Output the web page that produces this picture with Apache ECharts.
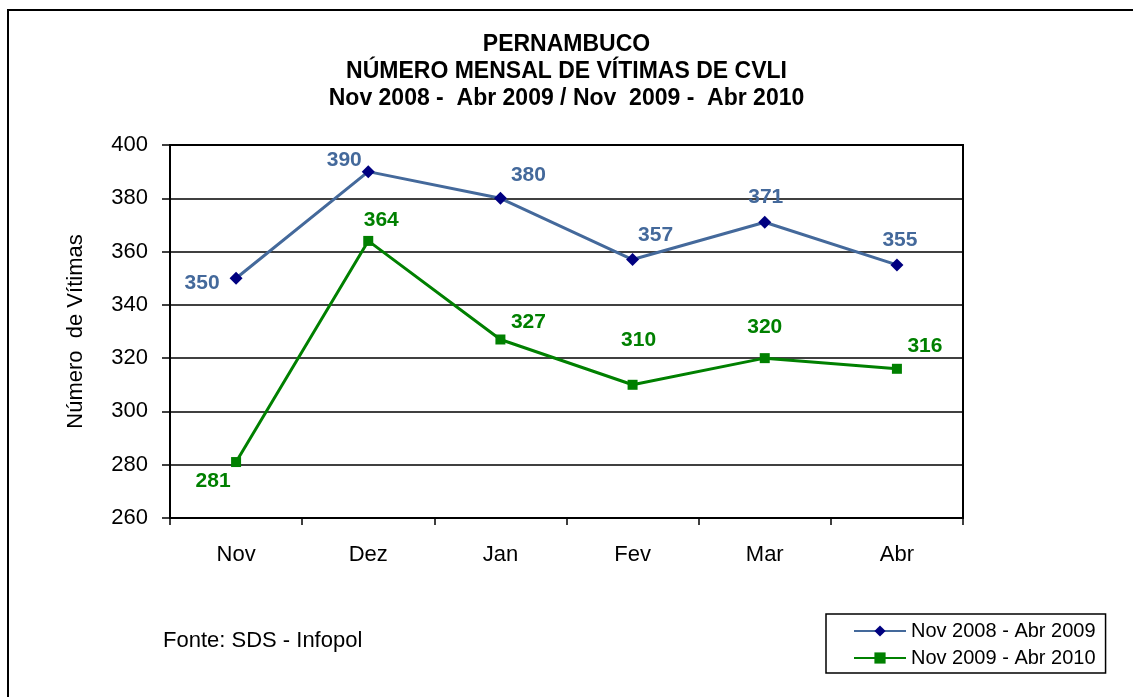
<!DOCTYPE html>
<html>
<head>
<meta charset="utf-8">
<script src="https://cdn.jsdelivr.net/npm/echarts@6/dist/echarts.min.js"></script>
<style>
  html, body { margin: 0; padding: 0; background: #fff; }
  #chart { width: 1133px; height: 697px; }
</style>
</head>
<body>
<div id="chart"></div>
<script>
// dados
var months = ['Nov', 'Dez', 'Jan', 'Fev', 'Mar', 'Abr'];
var serie1Name = 'Nov 2008 - Abr 2009';
var serie2Name = 'Nov 2009 - Abr 2010';
var serie1 = [350, 390, 380, 357, 371, 355];
var serie2 = [281, 364, 327, 310, 320, 316];

// deslocamento dos rotulos (estilo)
var off1 = [[-34, 5], [-24, -11], [28, -23], [23, -24], [1, -25], [3, -25]];
var off2 = [[-23, 19], [13, -21], [28, -17], [6, -45], [0, -31], [28, -23]];

var FONT = 'Arial, "Liberation Sans", sans-serif';
var BLUE_TXT = '#44699b';

function withLabels(values, offsets) {
    return values.map(function (v, i) {
        return {
            value: v,
            label: { offset: offsets[i] }
        };
    });
}

var chart = echarts.init(document.getElementById('chart'));
var option = {
    backgroundColor: '#fff',
    animation: false,
    title: {
        text: 'PERNAMBUCO\nNÚMERO MENSAL DE VÍTIMAS DE CVLI\nNov 2008 -  Abr 2009 / Nov  2009 -  Abr 2010',
        left: 'center',
        top: 26,
        textStyle: {
            fontFamily: FONT,
            fontSize: 23,
            fontWeight: 'bold',
            color: '#000',
            lineHeight: 27
        }
    },
    legend: {
        orient: 'vertical',
        left: 826,
        top: 614,
        itemWidth: 52,
        itemHeight: 14,
        itemGap: 7,
        padding: [7, 10, 5, 27],
        borderColor: '#000',
        borderWidth: 1.5,
        textStyle: { fontFamily: FONT, fontSize: 20, color: '#000' },
        data: [serie1Name, serie2Name]
    },
    grid: {
        left: 170,
        right: 170,
        top: 145,
        bottom: 179,
        show: true,
        borderColor: '#000',
        borderWidth: 2
    },
    xAxis: {
        type: 'category',
        data: months,
        boundaryGap: true,
        axisLine: { lineStyle: { color: '#000', width: 2 } },
        axisTick: { show: true, length: 7, lineStyle: { color: '#000', width: 1.5 } },
        axisLabel: { margin: 26, fontFamily: FONT, fontSize: 22, color: '#000' }
    },
    yAxis: {
        type: 'value',
        min: 260,
        max: 400,
        interval: 20,
        name: 'Número  de Vítimas',
        nameLocation: 'middle',
        nameGap: 83,
        nameTextStyle: { fontFamily: FONT, fontSize: 22, color: '#000' },
        axisLine: { show: true, lineStyle: { color: '#000', width: 2 } },
        axisTick: { show: true, length: 8, lineStyle: { color: '#000', width: 1.5 } },
        axisLabel: { margin: 22, fontFamily: FONT, fontSize: 22, color: '#000' },
        splitLine: { show: true, lineStyle: { color: '#000', width: 1.5 } }
    },
    series: [
        {
            name: serie1Name,
            type: 'line',
            data: withLabels(serie1, off1),
            symbol: 'diamond',
            symbolSize: 13,
            lineStyle: { color: '#44699b', width: 3 },
            itemStyle: { color: '#000080' },
            label: {
                show: true,
                position: 'inside',
                fontFamily: FONT,
                fontSize: 21,
                fontWeight: 'bold',
                color: BLUE_TXT
            }
        },
        {
            name: serie2Name,
            type: 'line',
            data: withLabels(serie2, off2),
            symbol: 'rect',
            symbolSize: 10,
            lineStyle: { color: '#008000', width: 3 },
            itemStyle: { color: '#008000' },
            label: {
                show: true,
                position: 'inside',
                fontFamily: FONT,
                fontSize: 21,
                fontWeight: 'bold',
                color: '#008000'
            }
        }
    ],
    graphic: [
        {
            type: 'rect',
            shape: { x: 8, y: 10, width: 1300, height: 900 },
            style: { fill: null, stroke: '#000', lineWidth: 2 },
            silent: true
        },
        {
            type: 'text',
            left: 163,
            top: 630,
            style: { text: 'Fonte: SDS - Infopol', font: '22px ' + FONT, fill: '#000' }
        }
    ]
};
chart.setOption(option);
</script>
</body>
</html>
